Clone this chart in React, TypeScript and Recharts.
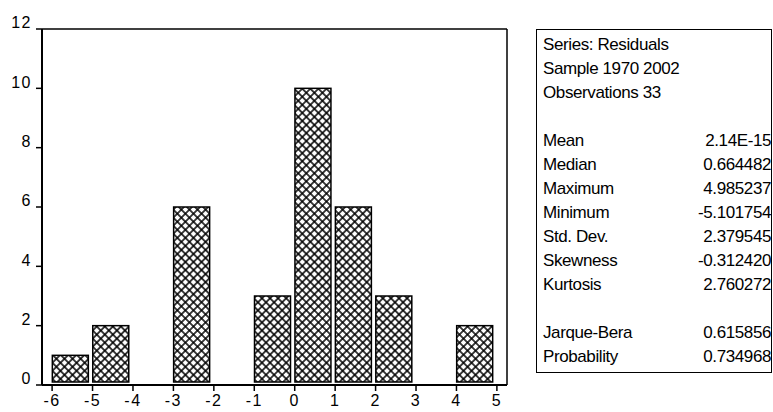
import React from "react";
import { BarChart, Bar, XAxis, YAxis } from "recharts";

// histogram of residuals, bins of width 1
const binStarts = [-6, -5, -4, -3, -2, -1, 0, 1, 2, 3, 4];
const binCounts = [1, 2, 0, 6, 0, 3, 10, 6, 3, 0, 2];
const xTicks = [-6, -5, -4, -3, -2, -1, 0, 1, 2, 3, 4, 5];
const yTicks = [0, 2, 4, 6, 8, 10, 12];

const headerLines = ["Series: Residuals", "Sample 1970 2002", "Observations 33"];
const statLabels = ["Mean", "Median", "Maximum", "Minimum", "Std. Dev.", "Skewness", "Kurtosis"];
const statValues = ["2.14E-15", "0.664482", "4.985237", "-5.101754", "2.379545", "-0.312420", "2.760272"];
const testLabels = ["Jarque-Bera", "Probability"];
const testValues = ["0.615856", "0.734968"];

const FONT = "Arial, 'Liberation Sans', Helvetica, sans-serif";

const data = binStarts.map((s, i) => ({ mid: s + 0.5, count: binCounts[i] }));

function HatchBar(props: any) {
  const { x, y, width, height, payload } = props;
  if (!payload || !payload.count) return null;
  return (
    <rect
      x={x - 2}
      y={y}
      width={width}
      height={Math.max(0, height - 3)}
      fill="url(#xhatch)"
      stroke="#000"
      strokeWidth={1.5}
    />
  );
}

function YTick(props: any) {
  const { x, y, payload } = props;
  return (
    <text
      x={x}
      y={y - 5}
      textAnchor="end"
      dominantBaseline="middle"
      fill="#000"
      fontSize={16}
      fontFamily={FONT}
      letterSpacing={1.5}
    >
      {payload.value}
    </text>
  );
}

function Row({ label, value }: { label: string; value?: string }) {
  return (
    <div
      style={{
        height: 24,
        lineHeight: "24px",
        display: "flex",
        justifyContent: "space-between",
        whiteSpace: "nowrap",
      }}
    >
      <span>{label}</span>
      {value !== undefined && <span>{value}</span>}
    </div>
  );
}

export default function App() {
  return (
    <div
      style={{
        position: "absolute",
        left: 0,
        top: 0,
        width: 773,
        height: 412,
        background: "#fff",
      }}
    >
      <BarChart
        width={520}
        height={412}
        data={data}
        margin={{ top: 28, right: 12, bottom: 0, left: 0 }}
        barCategoryGap="5.5%"
      >
        <defs>
          <pattern
            id="xhatch"
            width="5.7"
            height="5.7"
            patternUnits="userSpaceOnUse"
            patternTransform="rotate(45)"
          >
            <rect width="5.7" height="5.7" fill="#fff" />
            <line x1="0" y1="2.85" x2="5.7" y2="2.85" stroke="#000" strokeWidth="1.5" />
            <line x1="2.85" y1="0" x2="2.85" y2="5.7" stroke="#000" strokeWidth="1.5" />
          </pattern>
        </defs>
        <XAxis
          xAxisId="b"
          type="number"
          dataKey="mid"
          domain={[-6.25, 5.25]}
          allowDataOverflow
          ticks={xTicks}
          interval={0}
          height={27}
          tickSize={6}
          tickMargin={4}
          axisLine={{ stroke: "#000", strokeWidth: 2 }}
          tickLine={{ stroke: "#000", strokeWidth: 1.5 }}
          tick={{ fill: "#000", fontSize: 16, fontFamily: FONT, letterSpacing: 1.5 }}
        />
        <XAxis
          xAxisId="t"
          orientation="top"
          type="number"
          domain={[-6.25, 5.25]}
          allowDataOverflow
          height={1}
          tick={false}
          tickLine={false}
          axisLine={{ stroke: "#000", strokeWidth: 1.5 }}
        />
        <YAxis
          yAxisId="l"
          type="number"
          domain={[0, 12]}
          ticks={yTicks}
          interval={0}
          width={42}
          tickSize={6}
          tickMargin={4}
          axisLine={{ stroke: "#000", strokeWidth: 2 }}
          tickLine={{ stroke: "#000", strokeWidth: 1.5 }}
          tick={<YTick />}
        />
        <YAxis
          yAxisId="r"
          orientation="right"
          type="number"
          domain={[0, 12]}
          width={1}
          tick={false}
          tickLine={false}
          axisLine={{ stroke: "#000", strokeWidth: 1.5 }}
        />
        <Bar
          xAxisId="b"
          yAxisId="l"
          dataKey="count"
          shape={<HatchBar />}
          isAnimationActive={false}
        />
      </BarChart>

      <div
        style={{
          position: "absolute",
          left: 536,
          top: 29,
          width: 236,
          height: 344,
          border: "1.5px solid #000",
          boxSizing: "border-box",
          padding: "3px 0 0 6px",
          overflow: "hidden",
          fontFamily: FONT,
          fontSize: 17,
          letterSpacing: -0.4,
          color: "#000",
        }}
      >
        {headerLines.map((t) => (
          <Row key={t} label={t} />
        ))}
        <Row label="" />
        {statLabels.map((l, i) => (
          <Row key={l} label={l} value={statValues[i]} />
        ))}
        <Row label="" />
        {testLabels.map((l, i) => (
          <Row key={l} label={l} value={testValues[i]} />
        ))}
      </div>
    </div>
  );
}
